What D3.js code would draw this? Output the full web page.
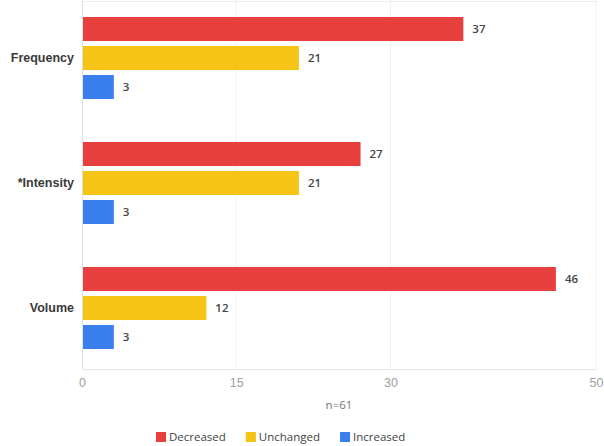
<!DOCTYPE html>
<html><head><meta charset="utf-8">
<script src="https://cdn.jsdelivr.net/npm/d3@7"></script>
<style>body{margin:0;background:#fff;} svg{display:block;font-family:"Open Sans","Noto Sans",sans-serif;}</style>
</head><body>
<svg id="c" width="604" height="446"></svg>
<script>
const categories = ["Frequency", "*Intensity", "Volume"];
const seriesNames = ["Decreased", "Unchanged", "Increased"];
const decreased = [37, 27, 46];
const unchanged = [21, 21, 12];
const increased = [3, 3, 3];
const tickValues = [0, 15, 30, 50];
const xLabel = "n=61";
const colors = ["#E8403E", "#F5C414", "#3B7EEE"];

(function () {
const series = [decreased, unchanged, increased];
const svg = d3.select("#c");
const mLeft = 82, mRight = 596, mTop = -4.5, mBottom = 370.5, axisY = 369;

const x = d3.scaleLinear().domain([0, 50]).range([mLeft, mRight]);
const y0 = d3.scaleBand().domain(categories).range([mTop, mBottom]).paddingInner(0.344).paddingOuter(0.172);
const y1 = d3.scaleBand().domain(seriesNames).range([0, y0.bandwidth()]).paddingInner(0.172).paddingOuter(0);

// gridlines
svg.append("g").selectAll("line").data(tickValues.slice(1)).join("line")
  .attr("x1", d => x(d)).attr("x2", d => x(d)).attr("y1", 0).attr("y2", axisY)
  .attr("stroke", "#f1f1f1").attr("stroke-width", 1);
svg.append("line").attr("x1", mLeft).attr("x2", mRight).attr("y1", 1.5).attr("y2", 1.5).attr("stroke", "#eeeeee");

// axes
const xAxis = d3.axisBottom(x).tickValues(tickValues).tickSize(0).tickPadding(9);
const gx = svg.append("g").attr("transform", `translate(0,${axisY})`).call(xAxis);
gx.select(".domain").attr("stroke", "#e6e6e6");
gx.selectAll("text").attr("fill", "#a0a0a0").attr("font-size", 12.5).style("font-family", "inherit");

svg.append("line").attr("x1", mLeft + 0.5).attr("x2", mLeft + 0.5).attr("y1", 0).attr("y2", axisY)
  .attr("stroke", "#dde0e6");

const yAxis = d3.axisLeft(y0).tickSize(0).tickPadding(8);
const gy = svg.append("g").attr("transform", `translate(${mLeft},0)`).call(yAxis);
gy.select(".domain").remove();
gy.selectAll("text").attr("fill", "#3a3a3a").attr("font-size", 12.5).attr("font-weight", 600).style("font-family", "inherit");

// bars
const groups = svg.append("g").selectAll("g").data(categories).join("g")
  .attr("transform", c => `translate(0,${y0(c)})`);
const rows = (c, i) => seriesNames.map((s, j) => ({s, j, v: series[j][i]}));
groups.selectAll("rect").data(rows).join("rect")
  .attr("x", x(0) + 1).attr("y", d => y1(d.s)).attr("height", y1.bandwidth())
  .attr("width", d => x(d.v) - x(0)).attr("fill", d => colors[d.j]);
groups.selectAll("text").data(rows).join("text")
  .attr("x", d => x(d.v) + 10).attr("y", d => y1(d.s) + y1.bandwidth() / 2).attr("dy", "0.35em")
  .attr("font-size", 11.5).attr("font-weight", 600).attr("fill", "#444").text(d => d.v);

// axis title
svg.append("text").attr("x", (mLeft + mRight) / 2).attr("y", 405).attr("dy", "0.35em").attr("text-anchor", "middle")
  .attr("font-size", 11.5).attr("fill", "#777").text(xLabel);

// legend
const lg = svg.append("g").attr("transform", "translate(156,437)");
let lx = 0;
seriesNames.forEach((s, i) => {
  const g = lg.append("g").attr("transform", `translate(${lx},0)`);
  g.append("rect").attr("x", 0).attr("y", -5).attr("width", 10).attr("height", 10).attr("fill", colors[i]);
  const t = g.append("text").attr("x", 13).attr("y", 0).attr("dy", "0.35em").attr("font-size", 11.5).attr("fill", "#444").text(s);
  lx += 13 + t.node().getComputedTextLength() + 20;
});
})();
</script>
</body></html>
